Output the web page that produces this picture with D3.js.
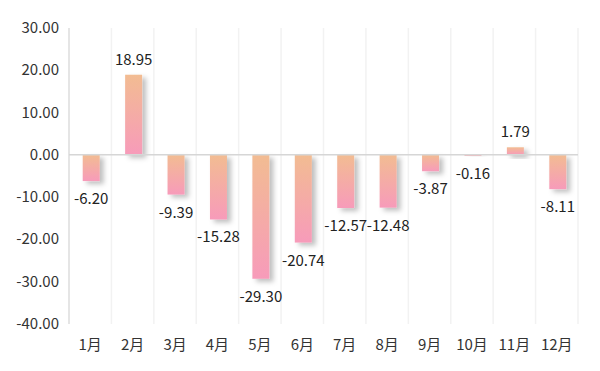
<!DOCTYPE html>
<html>
<head>
<meta charset="utf-8">
<script src="https://cdnjs.cloudflare.com/ajax/libs/d3/7.8.5/d3.min.js"></script>
<style>
  body { margin: 0; background: #fff; }
  text { font-family: "Noto Sans CJK SC", "Noto Sans", sans-serif; }
</style>
</head>
<body>
<svg id="chart" width="600" height="371"></svg>
<script>
const months = ['1月', '2月', '3月', '4月', '5月', '6月', '7月', '8月', '9月', '10月', '11月', '12月'];
const values = [-6.20, 18.95, -9.39, -15.28, -29.30, -20.74, -12.57, -12.48, -3.87, -0.16, 1.79, -8.11];
const yTicks = [30, 20, 10, 0, -10, -20, -30, -40];

const svg = d3.select('#chart');
const plotLeft = 69, plotRight = 578, plotTop = 28, plotBottom = 324;

const x = d3.scaleBand().domain(months).range([plotLeft, plotRight]);
const y = d3.scaleLinear().domain([-40, 30]).range([plotBottom, plotTop]);

const defs = svg.append('defs');
const grad = defs.append('linearGradient')
  .attr('id', 'barGrad')
  .attr('x1', 0).attr('y1', 0).attr('x2', 0).attr('y2', 1);
grad.append('stop').attr('offset', '0%').attr('stop-color', '#f2bc92');
grad.append('stop').attr('offset', '100%').attr('stop-color', '#f79bba');

const shadow = defs.append('filter').attr('id', 'shadow')
  .attr('x', '-50%').attr('y', '-50%').attr('width', '200%').attr('height', '200%');
shadow.append('feDropShadow')
  .attr('dx', 4).attr('dy', 3).attr('stdDeviation', 2.5)
  .attr('flood-color', '#000').attr('flood-opacity', 0.25);

// vertical grid lines at category boundaries
const bounds = months.map(m => x(m)).concat([plotRight]);
svg.append('g').selectAll('line')
  .data(bounds.slice(1))
  .enter()
  .append('line')
  .attr('x1', d => d).attr('x2', d => d)
  .attr('y1', plotTop).attr('y2', plotBottom)
  .attr('stroke', '#f2f2f2').attr('stroke-width', 1.5);

// y axis line
svg.append('line')
  .attr('x1', plotLeft).attr('x2', plotLeft)
  .attr('y1', plotTop).attr('y2', plotBottom)
  .attr('stroke', '#dcdcdc').attr('stroke-width', 1.5);

// y tick labels
svg.append('g').selectAll('text')
  .data(yTicks)
  .enter()
  .append('text')
  .attr('x', plotLeft - 10)
  .attr('y', d => y(d) + 5)
  .attr('text-anchor', 'end')
  .attr('font-size', 15)
  .attr('fill', '#333')
  .text(d => d.toFixed(2));

// bars
const barW = 17;
svg.append('g').selectAll('rect')
  .data(values)
  .enter()
  .append('rect')
  .attr('x', (d, i) => x(months[i]) + x.bandwidth() / 2 - barW / 2 + 1)
  .attr('y', d => y(Math.max(0, d)))
  .attr('width', barW)
  .attr('height', d => Math.max(1, Math.abs(y(d) - y(0))))
  .attr('fill', 'url(#barGrad)')
  .attr('filter', 'url(#shadow)');

// zero line
svg.append('line')
  .attr('x1', plotLeft).attr('x2', plotRight)
  .attr('y1', y(0)).attr('y2', y(0))
  .attr('stroke', '#d6d6d6').attr('stroke-width', 1.5);

// value labels
svg.append('g').selectAll('text')
  .data(values)
  .enter()
  .append('text')
  .attr('x', (d, i) => x(months[i]) + x.bandwidth() / 2 + 1)
  .attr('y', d => d >= 0 ? y(d) - 10 : y(d) + 23)
  .attr('text-anchor', 'middle')
  .attr('font-size', 15)
  .attr('fill', '#222')
  .text(d => d.toFixed(2));

// x labels
svg.append('g').selectAll('text')
  .data(months)
  .enter()
  .append('text')
  .attr('x', d => x(d) + x.bandwidth() / 2)
  .attr('y', 350)
  .attr('text-anchor', 'middle')
  .attr('font-size', 15)
  .attr('fill', '#333')
  .text(d => d);
</script>
</body>
</html>
